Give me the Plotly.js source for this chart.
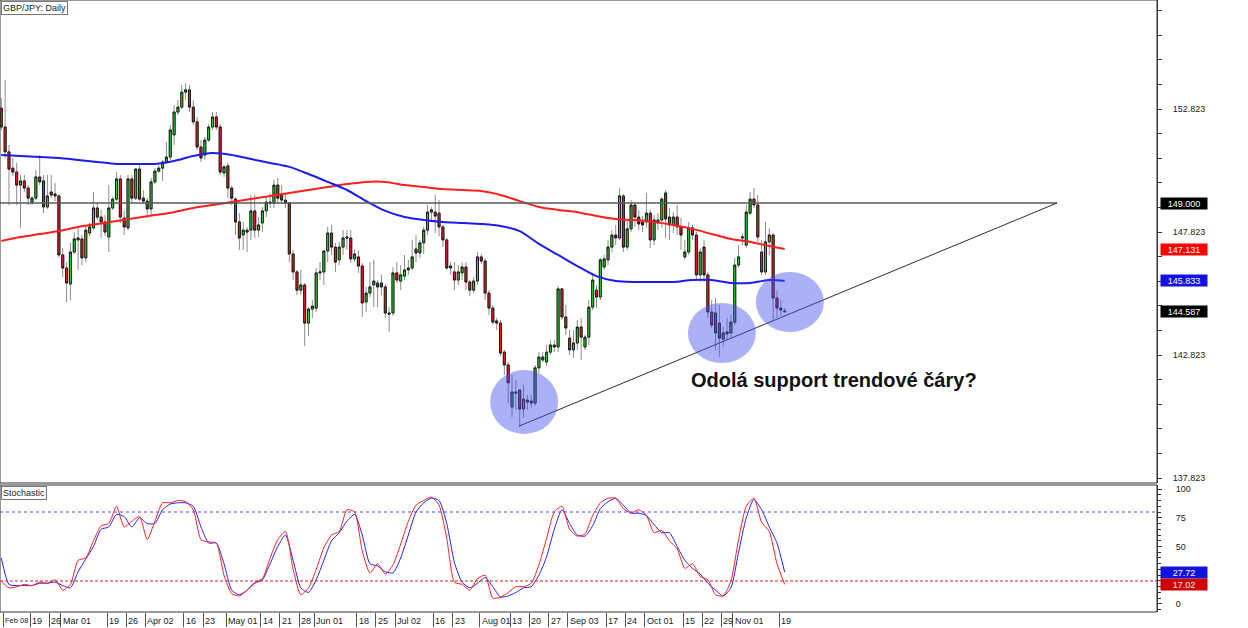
<!DOCTYPE html>
<html><head><meta charset="utf-8">
<script src="https://cdn.plot.ly/plotly-3.0.1.min.js"></script>
<style>html,body{margin:0;padding:0;background:#fff}#chart{width:1248px;height:628px}</style>
</head><body><div id="chart"></div>
<script>
// ---------- DATA ----------
const startDate = '2018-02-07';
const endDate = '2018-11-20';

const open = [
152.86,152.09,151.08,150.42,150.26,149.73,149.90,149.61,149.04,149.20,
150.06,149.90,148.84,149.45,149.37,149.29,146.89,146.36,145.71,147.01,
147.50,147.54,146.77,147.78,147.99,148.80,148.43,148.23,147.62,148.80,
149.16,149.98,148.39,147.99,149.98,149.20,150.38,149.20,149.08,148.76,
149.86,150.30,150.42,150.67,150.87,151.77,152.70,152.90,153.51,153.60,
152.90,152.30,151.28,150.95,151.56,152.09,152.50,152.09,150.22,150.51,
149.61,149.16,148.23,147.70,147.82,147.90,148.68,147.90,148.19,148.68,
149.04,149.00,149.73,149.33,149.12,149.00,146.93,146.20,145.46,145.67,
144.12,144.69,144.73,146.16,146.20,147.05,147.78,147.21,146.69,147.21,
147.62,147.58,146.73,146.81,146.44,144.98,145.34,145.67,145.75,145.75,
145.59,144.53,144.53,146.16,145.83,146.03,146.28,146.36,147.13,146.97,
147.38,147.90,148.63,148.63,148.59,148.03,147.50,146.44,146.20,145.87,
146.16,146.40,145.79,145.46,145.83,146.81,146.64,145.34,144.73,144.21,
144.12,142.94,142.42,140.71,141.32,141.40,140.63,140.99,140.95,140.87,
142.30,142.62,142.54,142.94,143.23,143.15,145.51,144.37,143.51,143.03,
143.31,143.96,143.15,143.55,144.77,145.46,145.18,146.40,146.69,147.21,
147.70,147.58,149.29,147.21,147.95,148.92,148.43,148.23,148.23,148.59,
147.50,148.31,148.31,149.41,148.43,148.11,148.43,148.03,146.81,147.01,
147.99,147.70,146.08,147.21,146.08,144.57,144.53,144.12,143.47,143.76,
143.72,144.16,146.48,147.58,147.29,148.59,149.16,148.92,147.01,146.20,
147.42,147.70,145.14,144.73,144.61];

const high = [
153.27,154.00,151.36,150.83,150.63,150.14,150.14,149.73,149.29,150.34,
150.95,150.14,150.14,150.14,149.82,149.37,147.17,146.60,147.38,147.82,
147.99,147.70,148.07,148.19,149.45,149.00,148.72,148.51,149.73,149.24,
150.26,150.14,148.68,150.14,150.14,150.42,150.55,149.53,149.20,150.02,
150.42,150.55,150.75,151.48,152.17,152.99,153.19,153.80,153.88,153.80,
153.19,152.50,151.56,151.68,152.21,152.70,152.70,152.21,150.55,150.63,
149.70,149.24,148.59,148.23,148.03,149.33,149.33,148.43,148.84,149.24,
149.41,149.94,150.02,149.73,149.41,149.04,147.09,146.28,146.28,145.75,
144.77,145.06,146.36,146.60,147.09,148.03,148.11,147.38,147.42,147.90,
147.90,147.90,147.13,147.09,146.56,145.59,146.60,146.69,145.87,146.08,
145.71,144.77,146.40,146.60,146.48,146.89,146.69,147.50,147.70,147.50,
148.03,148.92,148.84,149.33,149.12,148.11,147.58,146.60,146.60,146.48,
146.60,146.60,145.87,145.99,147.01,146.93,146.77,145.46,144.86,144.33,
144.25,143.03,142.54,142.01,141.81,141.40,141.61,141.20,141.20,142.42,
142.94,142.94,143.23,143.43,143.43,145.63,145.55,144.86,143.84,143.84,
144.25,144.33,143.64,145.06,146.08,145.67,146.77,146.89,147.50,147.90,
148.11,149.61,149.37,148.31,149.12,149.00,148.72,148.47,149.41,148.72,
148.51,148.59,149.24,149.53,148.80,148.63,148.92,148.39,147.50,148.23,
148.11,147.82,147.17,147.50,146.20,145.06,145.14,144.86,143.96,144.33,
144.45,146.77,147.29,147.78,148.92,149.45,149.61,149.33,147.50,148.23,
147.99,147.78,145.46,145.06,144.73];

const low = [
151.97,150.83,148.92,150.10,148.92,147.99,149.45,148.92,148.92,149.12,
149.73,148.59,148.76,149.20,149.08,146.77,145.99,144.98,145.06,146.93,
146.28,146.48,146.60,147.66,147.90,148.31,147.58,147.66,147.01,148.72,
149.08,148.19,147.70,147.90,149.04,149.12,149.08,148.96,148.39,148.51,
149.77,150.22,149.90,150.59,150.75,151.36,152.58,152.82,153.19,152.70,
152.17,151.16,150.67,150.75,151.48,151.97,151.97,150.14,150.06,149.20,
148.92,147.70,147.09,147.09,147.01,147.50,147.58,147.62,147.82,148.43,
148.80,148.80,149.00,149.00,148.80,146.60,145.87,145.26,145.26,143.19,
143.60,144.33,144.57,145.87,145.67,146.60,146.89,146.20,146.48,146.89,
147.09,146.56,146.60,146.16,144.37,144.57,145.18,144.77,144.77,145.26,
144.33,143.76,144.41,145.75,145.46,145.87,146.08,146.28,146.60,146.77,
146.93,147.70,148.31,147.78,147.66,147.21,146.28,146.08,145.46,145.67,
145.87,145.46,145.22,145.34,145.67,146.52,145.06,144.45,144.04,143.84,
142.78,142.01,140.87,140.30,140.59,139.90,140.26,140.59,140.67,140.75,
142.09,142.54,142.38,142.82,142.94,142.94,144.25,143.64,142.82,142.70,
143.03,142.62,143.03,143.23,144.65,144.73,145.06,146.28,146.48,147.01,
147.29,147.50,147.01,147.09,147.82,148.03,147.90,147.82,147.99,147.17,
147.29,147.90,147.99,147.58,147.50,147.78,147.70,147.09,146.69,146.89,
147.50,145.87,145.79,145.79,144.33,143.92,143.03,142.74,143.15,143.43,
143.51,144.04,146.36,147.29,147.17,148.51,148.80,147.42,146.08,146.08,
146.89,144.25,144.33,144.41,144.53];

const close = [
152.09,151.08,150.38,150.26,149.73,149.90,149.61,149.20,149.20,150.06,
149.86,148.84,149.29,149.33,149.29,146.89,146.36,145.75,147.01,147.54,
147.58,146.77,147.90,148.03,148.80,148.43,148.23,147.82,148.80,149.16,
149.98,148.43,148.03,149.98,149.20,150.38,149.16,149.08,148.76,149.86,
150.30,150.42,150.67,150.87,151.97,152.70,152.90,153.51,153.60,152.90,
152.30,151.28,150.83,151.56,152.09,152.50,152.09,150.26,150.47,149.61,
149.20,148.23,147.58,147.90,147.90,148.68,147.90,148.11,148.68,149.04,
149.00,149.73,149.20,149.12,149.00,146.93,146.20,145.46,145.67,144.12,
144.69,144.81,146.16,146.20,147.05,147.78,147.21,146.60,147.21,147.58,
147.58,146.73,146.93,146.44,144.94,145.34,145.59,145.83,145.59,145.59,
144.53,144.49,146.16,145.87,146.08,146.28,146.36,146.81,146.97,147.38,
147.90,148.63,148.72,148.47,148.03,147.50,146.36,146.36,145.87,146.20,
146.40,145.79,145.46,145.83,146.81,146.64,145.34,144.73,144.16,144.12,
142.90,142.42,141.69,141.32,141.28,140.63,141.03,140.91,140.87,142.30,
142.74,142.74,142.94,143.23,143.15,145.51,144.37,143.92,143.03,143.31,
143.96,143.55,143.55,144.77,145.87,145.18,146.69,146.73,147.21,147.70,
147.58,149.29,147.21,147.95,148.92,148.43,148.15,148.11,148.59,147.50,
148.31,148.19,149.16,148.35,148.11,148.43,148.03,147.70,147.01,147.99,
147.70,146.08,147.01,146.08,144.57,144.04,143.72,143.51,143.72,143.68,
144.16,146.48,146.81,147.62,148.63,149.16,148.92,147.62,146.20,147.42,
147.70,145.14,144.73,144.65,144.587];

// moving averages, read every 5th bar (last bar at the end)
const maIndex = [0,5,10,15,20,25,30,35,40,45,50,55,60,65,70,75,80,85,90,95,100,
  105,110,115,120,125,130,135,140,145,150,155,160,165,170,175,180,185,190,195,200,204];
const maBlue = [150.95,150.91,150.87,150.83,150.75,150.67,150.59,150.59,150.59,150.71,
  150.91,151.03,150.95,150.79,150.63,150.47,150.18,149.86,149.53,149.08,148.68,
  148.43,148.31,148.23,148.19,148.15,148.07,147.86,147.34,146.89,146.44,146.03,
  145.83,145.79,145.79,145.79,145.87,145.87,145.75,145.75,145.87,145.833];
const maRed = [147.46,147.62,147.74,147.86,148.03,148.15,148.27,148.39,148.51,148.63,
  148.80,148.92,149.04,149.16,149.29,149.41,149.53,149.65,149.77,149.86,149.86,
  149.73,149.65,149.57,149.53,149.49,149.33,149.08,148.84,148.72,148.63,148.47,
  148.35,148.31,148.23,148.11,147.95,147.74,147.54,147.42,147.25,147.131];

// stochastic, read every 2nd bar
const stochStep = 2;
const stochMain = [
20,14,15,17,16,19,18,21,12,17, 38,40,55,68,70,85,67,72,76,56,
72,88,88,90,89,82,56,54,53,25, 9,7,12,19,22,40,56,63,30,8,
14,30,49,60,63,82,80,46,27,35, 26,34,52,72,86,90,93,86,57,19,
17,12,22,25,5,6,10,15,15,18, 34,57,80,85,65,59,61,77,88,92,
92,83,79,82,77,62,64,55,48,31, 35,24,21,8,7,20,56,85,92,71,
63,35,17.02];
const stochSignal = [
40,17,16,16,16,18,18,19,16,14, 28,39,50,65,67,78,76,67,75,70,
70,82,87,88,88,85,67,53,53,35, 12,8,12,18,21,35,50,60,38,14,
10,21,38,55,62,72,78,60,35,33, 28,27,40,60,80,88,92,90,70,36,
19,14,18,23,15,6,7,10,14,15, 25,41,65,82,70,60,59,68,83,89,
92,86,79,79,77,69,62,62,50,38, 31,26,18,12,7,14,45,75,91,82,
67,53,27.72];

const tickDates = ['2018-02-08','2018-02-19','2018-02-26','2018-03-01','2018-03-19','2018-03-26',
 '2018-04-02','2018-04-16','2018-04-23','2018-05-01','2018-05-14','2018-05-21','2018-05-28',
 '2018-06-01','2018-06-18','2018-06-25','2018-07-02','2018-07-16','2018-07-23','2018-08-01',
 '2018-08-13','2018-08-20','2018-08-27','2018-09-03','2018-09-17','2018-09-24','2018-10-01',
 '2018-10-15','2018-10-22','2018-10-29','2018-11-01','2018-11-19'];
const tickText = ['Feb 08','19','26','Mar 01','19','26','Apr 02','16','23','May 01','14','21','28',
 'Jun 01','18','25','Jul 02','16','23','Aug 01','13','20','27','Sep 03','17','24','Oct 01',
 '15','22','29','Nov 01','19'];

const levelPrice = 149.000;
const priceTicks = [137.823,142.823,147.823,152.823];
const stochTicks = [0,50,75,100];
const stochLevels = [80,20];

// ---------- BUILD ----------
function tradingDays(s, e){
  const out = []; let d = new Date(s+'T00:00:00Z'); const end = new Date(e+'T00:00:00Z');
  while (d <= end){ const w = d.getUTCDay(); if (w !== 0 && w !== 6) out.push(d.toISOString().slice(0,10)); d = new Date(d.getTime()+86400000); }
  return out;
}
const dates = tradingDays(startDate, endDate);
const xi = close.map((_, i) => i);
const bodyHigh = open.map((o, i) => Math.max(o, close[i]));
const bodyLow = open.map((o, i) => Math.min(o, close[i]));
const sx = stochMain.map((_, i) => Math.min(i*stochStep, close.length-1));

const FONT = 'Liberation Sans, Arial, sans-serif';
const wickCol = '#8c8c8c';

const traces = [
 {type:'candlestick', x:xi, open:open, high:high, low:low, close:close,
  increasing:{line:{color:wickCol,width:1}, fillcolor:wickCol},
  decreasing:{line:{color:wickCol,width:1}, fillcolor:wickCol},
  whiskerwidth:0, hoverinfo:'skip', xaxis:'x', yaxis:'y'},
 {type:'candlestick', x:xi, open:open, high:bodyHigh, low:bodyLow, close:close,
  increasing:{line:{color:'#1a1a1a',width:1}, fillcolor:'#22e022'},
  decreasing:{line:{color:'#1a1a1a',width:1}, fillcolor:'#ff1a1a'},
  whiskerwidth:0, hoverinfo:'skip', xaxis:'x', yaxis:'y'},
 {type:'scatter', mode:'lines', x:maIndex, y:maRed, line:{color:'#ff1f1f', width:2, shape:'spline', smoothing:0.8}, hoverinfo:'skip'},
 {type:'scatter', mode:'lines', x:maIndex, y:maBlue, line:{color:'#1c1cf0', width:2, shape:'spline', smoothing:0.8}, hoverinfo:'skip'},
 {type:'scatter', mode:'lines', x:sx, y:stochSignal, yaxis:'y2', line:{color:'#2222ff', width:1, shape:'spline', smoothing:0.6}, hoverinfo:'skip'},
 {type:'scatter', mode:'lines', x:sx, y:stochMain, yaxis:'y2', line:{color:'#ff2020', width:1, shape:'spline', smoothing:0.6}, hoverinfo:'skip'}
];

const tickPos = tickDates.map(d => dates.indexOf(d) - 0.47);
const mainDom = [0.2108, 1];
const stochDom = [0, 0.2075];

// geometry of drawn annotations (in axis units)
const trendStart = [134.8, 139.93];
const trendEnd = [274.9, levelPrice];
const circles = [[127.3,145.0,139.61,142.21],[178.8,196.5,142.50,144.94],[196.5,214.2,143.76,146.20]];

const shapes = [
 {type:'rect', xref:'paper', yref:'paper', x0:0, x1:1, y0:mainDom[0], y1:mainDom[1], line:{color:'#333',width:1}},
 {type:'rect', xref:'paper', yref:'paper', x0:0, x1:1, y0:stochDom[0], y1:stochDom[1], line:{color:'#333',width:1}},
 {type:'line', xref:'x', yref:'y', x0:-0.34, x1:trendEnd[0], y0:levelPrice, y1:levelPrice, line:{color:'#5a5a5a', width:1.5}},
 {type:'line', xref:'x', yref:'y', x0:trendStart[0], y0:trendStart[1], x1:trendEnd[0], y1:trendEnd[1], line:{color:'#2a2a3a', width:1}},
 {type:'line', xref:'paper', yref:'y2', x0:0, x1:1, y0:stochLevels[0], y1:stochLevels[0], line:{color:'#4a4aff', width:1.2, dash:'dot'}},
 {type:'line', xref:'paper', yref:'y2', x0:0, x1:1, y0:stochLevels[1], y1:stochLevels[1], line:{color:'#d02020', width:1, dash:'3px,2px'}}
];
circles.forEach(c => shapes.push({type:'circle', xref:'x', yref:'y', x0:c[0], x1:c[1], y0:c[2], y1:c[3], fillcolor:'rgba(70,80,235,0.45)', line:{width:0}}));

function tag(y, yref, text, bg){
  return {xref:'paper', x:1, xanchor:'left', xshift:3, yref:yref, y:y, yanchor:'middle', text:text, showarrow:false,
    bgcolor:bg, font:{family:FONT, size:9, color:'#fff'}, width:44, height:9, borderpad:1, align:'center'};
}
const annotations = [
 {xref:'paper', yref:'paper', x:0, y:1, xanchor:'left', yanchor:'top', xshift:1, yshift:-1, text:'GBP/JPY: Daily', showarrow:false,
  bgcolor:'#fff', bordercolor:'#777', borderwidth:1, borderpad:1, font:{family:FONT, size:9, color:'#222'}},
 {xref:'paper', yref:'paper', x:0, y:stochDom[1], xanchor:'left', yanchor:'top', xshift:1, yshift:-1, text:'Stochastic', showarrow:false,
  bgcolor:'#fff', bordercolor:'#777', borderwidth:1, borderpad:1, font:{family:FONT, size:9, color:'#222'}},
 {xref:'x', yref:'y', x:179.1, y:141.81, xanchor:'left', yanchor:'middle', text:'<b>Odolá support trendové čáry?</b>', showarrow:false,
  font:{family:FONT, size:20, color:'#111'}},
 tag(levelPrice, 'y', levelPrice.toFixed(3), '#000'),
 tag(maRed[maRed.length-1], 'y', maRed[maRed.length-1].toFixed(3), '#ff0000'),
 tag(maBlue[maBlue.length-1], 'y', maBlue[maBlue.length-1].toFixed(3), '#1212e0'),
 tag(close[close.length-1], 'y', close[close.length-1].toFixed(3), '#000'),
 tag(stochSignal[stochSignal.length-1], 'y2', stochSignal[stochSignal.length-1].toFixed(2), '#1212e0'),
 tag(stochMain[stochMain.length-1], 'y2', stochMain[stochMain.length-1].toFixed(2), '#d00000')
];
tickPos.forEach((p, i) => annotations.push({xref:'x', yref:'paper', x:p, y:0, xanchor:'left', yanchor:'top', xshift:0, yshift:-2,
  text:tickText[i], showarrow:false, font:{family:FONT, size:(i === 0 ? 7.5 : 9), color:'#222'}}));

const layout = {
 width:1248, height:628, margin:{l:0, r:91, t:0, b:16},
 paper_bgcolor:'#fff', plot_bgcolor:'#fff', showlegend:false, hovermode:false,
 font:{family:FONT, size:9, color:'#222'},
 boxgap:0.25,
 xaxis:{range:[-0.339, 300.96], anchor:'y2', showgrid:false, zeroline:false, showticklabels:false,
   ticks:'outside', ticklen:14, tickcolor:'#555', tickvals:tickPos, rangeslider:{visible:false}, showline:false},
 yaxis:{domain:mainDom, range:[137.62, 157.254], side:'right', anchor:'x', showgrid:false, zeroline:false,
   tickvals:priceTicks, tickformat:'.3f', ticks:'outside', ticklen:4, tickcolor:'#333', showline:true, linecolor:'#333',
   ticklabelstandoff:9, minor:{tick0:0.823, dtick:1, ticks:'outside', ticklen:4, tickcolor:'#333'}},
 yaxis2:{domain:stochDom, range:[-7, 103.5], side:'right', anchor:'x', showgrid:false, zeroline:false,
   tickvals:stochTicks, ticks:'outside', ticklen:4, tickcolor:'#333', showline:true, linecolor:'#333',
   ticklabelstandoff:12, minor:{tick0:0, dtick:5, ticks:'outside', ticklen:3, tickcolor:'#333'}},
 shapes:shapes, annotations:annotations
};

Plotly.newPlot('chart', traces, layout, {staticPlot:true, displayModeBar:false});
</script></body></html>
